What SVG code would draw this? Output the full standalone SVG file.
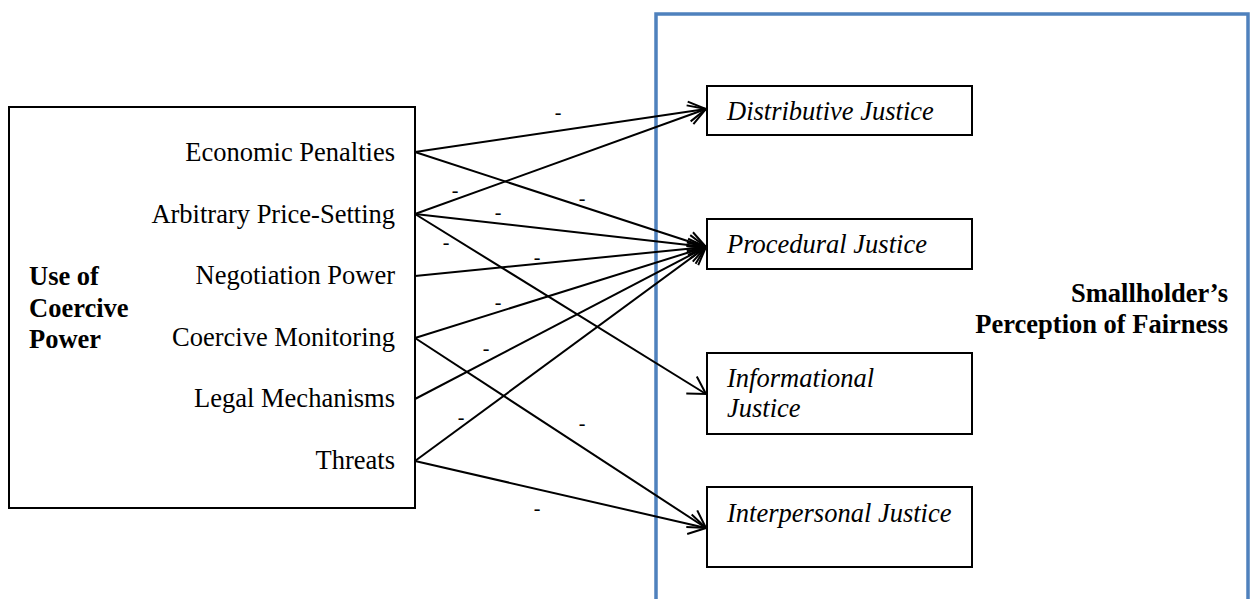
<svg xmlns="http://www.w3.org/2000/svg" width="1251" height="599" viewBox="0 0 1251 599">
  <style>
    .box { fill: #fff; stroke: #000; stroke-width: 2; }
    .frame { fill: none; stroke: #4F81BD; stroke-width: 3.5; }
    .lbl { font-family: "Liberation Serif", "Times New Roman", serif; font-size: 26.5px; fill: #000; }
    .it { font-style: italic; }
    .bd { font-weight: bold; }
    .end { text-anchor: end; }
    .edge { stroke: #000; stroke-width: 2; fill: none; marker-end: url(#arr); }
    .sign { font-family: "Liberation Serif", "Times New Roman", serif; font-size: 20px; text-anchor: middle; fill: #000; }
  </style>
  <defs>
    <!-- open chevron arrowhead -->
    <marker id="arr" markerUnits="userSpaceOnUse" markerWidth="26" markerHeight="26" viewBox="-22 -13 26 26" refX="0" refY="0" orient="auto">
      <path d="M-17,-10 L0,0 L-17,10" fill="none" stroke="#000" stroke-width="2"/>
    </marker>
  </defs>
  <rect width="1251" height="599" fill="#fff"/>

  <!-- outcome frame -->
  <g id="fairness">
    <rect class="frame" x="656" y="14" width="592" height="620"/>
    <text class="lbl bd end" x="1228" y="302">Smallholder’s</text>
    <text class="lbl bd end" x="1228" y="333">Perception of Fairness</text>
  </g>

  <!-- coercive power block -->
  <g id="coercive-power">
    <rect class="box" x="9" y="107" width="406" height="401"/>
    <text class="lbl bd" x="29" y="285">Use of</text>
    <text class="lbl bd" x="29" y="317">Coercive</text>
    <text class="lbl bd" x="29" y="348">Power</text>
    <text class="lbl end" x="395" y="161">Economic Penalties</text>
    <text class="lbl end" x="395" y="223">Arbitrary Price-Setting</text>
    <text class="lbl end" x="395" y="284">Negotiation Power</text>
    <text class="lbl end" x="395" y="346">Coercive Monitoring</text>
    <text class="lbl end" x="395" y="407">Legal Mechanisms</text>
    <text class="lbl end" x="395" y="469">Threats</text>
  </g>

  <g id="distributive">
    <rect class="box" x="707" y="86" width="265" height="49"/>
    <text class="lbl it" x="727" y="120">Distributive Justice</text>
  </g>
  <g id="procedural">
    <rect class="box" x="707" y="219" width="265" height="50"/>
    <text class="lbl it" x="727" y="253">Procedural Justice</text>
  </g>
  <g id="informational">
    <rect class="box" x="707" y="353" width="265" height="81"/>
    <text class="lbl it" x="727" y="387">Informational</text>
    <text class="lbl it" x="727" y="417">Justice</text>
  </g>
  <g id="interpersonal">
    <rect class="box" x="707" y="487" width="265" height="80"/>
    <text class="lbl it" x="727" y="522">Interpersonal Justice</text>
  </g>

  <!-- connectors -->
  <g id="connectors">
    <line class="edge" x1="415" y1="152" x2="706" y2="109"/>
    <line class="edge" x1="415" y1="152" x2="706" y2="247"/>
    <line class="edge" x1="415" y1="214" x2="706" y2="109"/>
    <line class="edge" x1="415" y1="214" x2="706" y2="247"/>
    <line class="edge" x1="415" y1="214" x2="706" y2="394"/>
    <line class="edge" x1="415" y1="276" x2="706" y2="247"/>
    <line class="edge" x1="415" y1="338" x2="706" y2="247"/>
    <line class="edge" x1="415" y1="338" x2="706" y2="528"/>
    <line class="edge" x1="415" y1="399" x2="706" y2="247"/>
    <line class="edge" x1="415" y1="461" x2="706" y2="247"/>
    <line class="edge" x1="415" y1="461" x2="706" y2="528"/>
    <text class="sign" x="558" y="119">-</text>
    <text class="sign" x="455" y="197">-</text>
    <text class="sign" x="582" y="205">-</text>
    <text class="sign" x="498" y="219">-</text>
    <text class="sign" x="446" y="249">-</text>
    <text class="sign" x="537" y="264">-</text>
    <text class="sign" x="498" y="309">-</text>
    <text class="sign" x="486" y="355">-</text>
    <text class="sign" x="461" y="424">-</text>
    <text class="sign" x="582" y="430">-</text>
    <text class="sign" x="537" y="515">-</text>
  </g>
</svg>
